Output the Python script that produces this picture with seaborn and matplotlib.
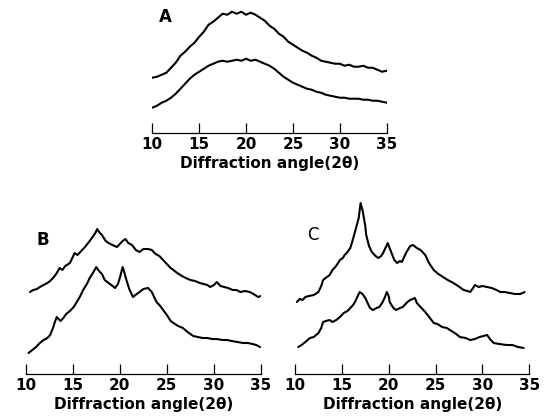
import numpy as np
import pandas as pd
import matplotlib
matplotlib.use("Agg")
import matplotlib.pyplot as plt
import seaborn as sns

# panel A: both patterns on a shared 0.5 degree grid
a_angle = [10.0, 10.5, 11.0, 11.5, 12.0, 12.5, 13.0, 13.5, 14.0, 14.5, 15.0, 15.5, 16.0,
           16.5, 17.0, 17.5, 18.0, 18.5, 19.0, 19.5, 20.0, 20.5, 21.0, 21.5, 22.0, 22.5,
           23.0, 23.5, 24.0, 24.5, 25.0, 25.5, 26.0, 26.5, 27.0, 27.5, 28.0, 28.5, 29.0,
           29.5, 30.0, 30.5, 31.0, 31.5, 32.0, 32.5, 33.0, 33.5, 34.0, 34.5, 35.0]
a_top = [55, 56, 58, 60, 65, 70, 77, 81, 86, 90, 96, 101, 108, 111, 115, 119, 118, 121, 119,
         121, 118, 120, 118, 115, 112, 107, 104, 99, 96, 91, 88, 85, 82, 80, 77, 75, 72, 71,
         70, 69, 69, 67, 68, 66, 66, 67, 65, 65, 63, 61, 62]
a_bottom = [25, 27, 30, 32, 35, 39, 44, 49, 54, 58, 61, 64, 67, 69, 71, 72, 71, 72, 73, 72,
            74, 72, 73, 71, 69, 67, 64, 60, 56, 53, 50, 48, 46, 44, 43, 41, 40, 38, 37, 36,
            35, 35, 34, 34, 34, 33, 33, 32, 32, 31, 30]

# panel B
b_top_angle = [10.45, 10.8, 11.2, 11.5, 11.9, 12.3, 12.6, 13.0, 13.3, 13.6, 13.9, 14.2, 14.7,
               15.0, 15.2, 15.5, 15.9, 16.3, 16.8, 17.1, 17.4, 17.6, 17.8, 18.1, 18.5, 18.8,
               19.2, 19.7, 20.0, 20.3, 20.6, 20.9, 21.3, 21.7, 22.1, 22.5, 23.0, 23.4, 23.8,
               24.2, 24.5, 25.0, 25.4, 25.7, 26.1, 26.6, 27.0, 27.5, 28.0, 28.5, 28.9, 29.3,
               29.6, 30.0, 30.3, 30.7, 31.1, 31.5, 32.0, 32.4, 32.8, 33.3, 33.8, 34.2, 34.7,
               35.0, 35.2]
b_top = [82, 84, 85, 87, 89, 91, 93, 97, 101, 106, 104, 108, 111, 117, 121, 119, 123, 127,
         133, 137, 141, 145, 142, 139, 133, 131, 129, 127, 130, 133, 135, 131, 129, 124, 122,
         125, 125, 124, 120, 118, 115, 110, 106, 104, 101, 98, 96, 94, 93, 91, 90, 89, 87, 89,
         92, 88, 87, 86, 84, 84, 82, 83, 82, 80, 77, 78, 79]
b_bottom_angle = [10.3, 10.7, 11.1, 11.5, 11.9, 12.3, 12.6, 12.9, 13.1, 13.3, 13.5, 13.7, 14.0,
                  14.3, 14.7, 15.1, 15.5, 15.8, 16.1, 16.5, 16.8, 17.2, 17.5, 17.7, 18.1,
                  18.4, 18.8, 19.1, 19.5, 19.8, 20.0, 20.3, 20.5, 20.7, 21.0, 21.4, 21.8,
                  22.1, 22.5, 23.0, 23.4, 23.9, 24.3, 24.6, 25.0, 25.4, 25.7, 26.2, 26.7,
                  27.2, 27.8, 28.3, 28.8, 29.3, 29.8, 30.3, 30.9, 31.4, 31.9, 32.5, 33.1,
                  33.6, 34.1, 34.5, 34.9]
b_bottom = [21, 24, 27, 31, 34, 36, 39, 46, 52, 57, 55, 53, 56, 60, 63, 67, 73, 78, 84, 90,
            96, 102, 107, 104, 100, 94, 91, 89, 86, 90, 96, 107, 101, 94, 85, 77, 80, 82, 85,
            86, 82, 72, 68, 64, 59, 53, 51, 48, 46, 42, 38, 37, 36, 36, 35, 35, 34, 34, 33, 32,
            31, 31, 30, 29, 27]

# panel C
c_top_angle = [10.2, 10.5, 10.8, 11.1, 11.5, 12.0, 12.5, 12.8, 13.0, 13.4, 13.7, 14.0, 14.3,
               14.6, 14.8, 15.1, 15.3, 15.6, 15.9, 16.1, 16.4, 16.6, 16.8, 17.0, 17.2, 17.3,
               17.5, 17.6, 17.9, 18.2, 18.6, 18.9, 19.2, 19.4, 19.7, 19.9, 20.1, 20.3, 20.6,
               20.9, 21.2, 21.4, 21.7, 21.9, 22.3, 22.6, 23.0, 23.4, 23.9, 24.3, 24.8, 25.3,
               25.8, 26.3, 26.9, 27.4, 28.0, 28.4, 28.7, 29.0, 29.2, 29.6, 30.0, 30.5, 31.0,
               31.5, 31.9, 32.4, 32.9, 33.5, 34.0, 34.3, 34.5]
c_top = [72, 75, 74, 77, 78, 79, 82, 88, 94, 97, 99, 104, 107, 111, 114, 116, 119, 122, 126,
         132, 142, 149, 156, 171, 164, 159, 148, 139, 128, 122, 118, 116, 118, 121, 127, 131,
         126, 121, 114, 111, 113, 112, 118, 122, 128, 129, 126, 124, 119, 111, 104, 100, 97,
         94, 91, 88, 84, 83, 82, 86, 89, 87, 88, 87, 86, 84, 82, 82, 81, 80, 80, 81, 82]
c_bottom_angle = [10.35, 10.7, 11.1, 11.6, 12.0, 12.5, 12.8, 13.0, 13.3, 13.7, 14.0, 14.4,
                  14.8, 15.2, 15.6, 15.9, 16.2, 16.4, 16.7, 16.9, 17.2, 17.5, 17.8, 18.0,
                  18.3, 18.7, 19.0, 19.3, 19.6, 19.8, 20.0, 20.1, 20.5, 20.8, 21.2, 21.5,
                  21.7, 22.0, 22.3, 22.8, 23.0, 23.5, 23.9, 24.4, 24.8, 25.2, 25.7, 26.2,
                  26.7, 27.2, 27.6, 28.2, 28.7, 29.2, 29.7, 30.1, 30.5, 30.8, 31.2, 31.8,
                  32.6, 33.2, 33.8, 34.4]
c_bottom = [27, 29, 32, 36, 37, 41, 46, 52, 53, 54, 52, 54, 57, 61, 63, 66, 69, 72, 78, 82,
            80, 76, 70, 66, 64, 66, 67, 71, 77, 82, 78, 72, 66, 64, 66, 67, 69, 72, 74, 76,
            71, 66, 62, 56, 51, 50, 47, 46, 43, 40, 37, 36, 34, 35, 37, 38, 39, 35, 31, 30,
            29, 29, 27, 26]

ticks = [10, 15, 20, 25, 30, 35]
xlabel = "Diffraction angle(2\u03b8)"

sns.set_style("white")
plt.rcParams["font.family"] = ["DejaVu Sans"]
plt.rcParams["text.color"] = "black"
plt.rcParams["axes.labelcolor"] = "black"
plt.rcParams["xtick.color"] = "black"

fig = plt.figure(figsize=(5.49, 4.20), dpi=100)

panels = [
    ("A", [0.2774, 0.6840, 0.4270, 0.3095], 130, [(a_angle, a_top), (a_angle, a_bottom)], (11.4, 116), "bold"),
    ("B", [0.0468, 0.1095, 0.4286, 0.4524], 190, [(b_top_angle, b_top), (b_bottom_angle, b_bottom)], (11.8, 134), "bold"),
    ("C", [0.5373, 0.1095, 0.4268, 0.4524], 190, [(c_top_angle, c_top), (c_bottom_angle, c_bottom)], (11.9, 139), "normal"),
]

for name, rect, ymax, curves, lab_xy, lab_w in panels:
    ax = fig.add_axes(rect)
    for ang, val in curves:
        df = pd.DataFrame({"angle": ang, "intensity": val})
        sns.lineplot(data=df, x="angle", y="intensity", color="black", linewidth=1.5,
                     sort=False, ax=ax)
    ax.set_xlim(10, 35)
    ax.set_ylim(0, ymax)
    ax.set_xticks(ticks)
    ax.set_xticklabels([str(t) for t in ticks], fontsize=11, fontweight="bold", color="black")
    ax.set_yticks([])
    ax.set_ylabel("")
    ax.set_xlabel(xlabel, fontsize=11, fontweight="bold", labelpad=3, color="black")
    for side in ["top", "left", "right"]:
        ax.spines[side].set_visible(False)
    ax.spines["bottom"].set_linewidth(0.9)
    ax.spines["bottom"].set_color("black")
    ax.tick_params(axis="x", direction="in", length=7, width=0.9, pad=3, colors="black",
                   bottom=True)
    ax.patch.set_alpha(0)
    ax.text(lab_xy[0], lab_xy[1], name, fontsize=12, fontweight=lab_w, ha="center",
            va="center", color="black")

fig.savefig("out.png", dpi=100)
